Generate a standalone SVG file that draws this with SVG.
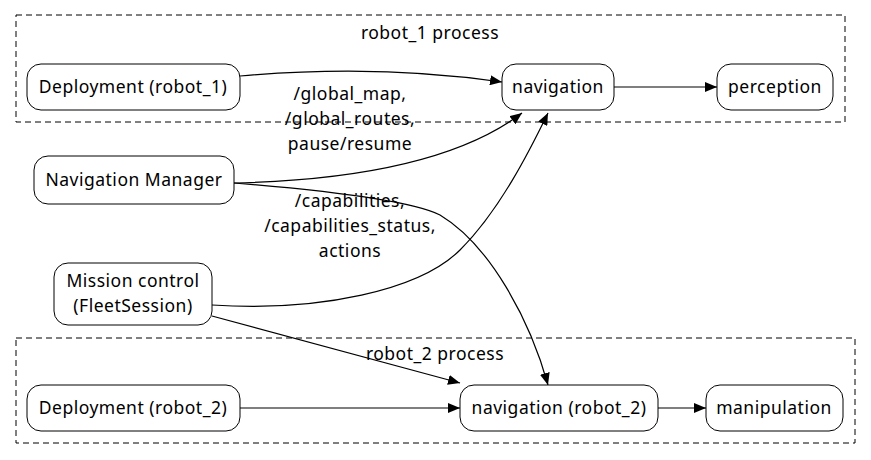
<svg xmlns="http://www.w3.org/2000/svg" width="871" height="460" viewBox="0 0 871 460">
<style>
text{font-family:"Noto Sans","DejaVu Sans",sans-serif;font-size:17.5px;letter-spacing:0.5px;fill:#000;text-anchor:middle}
.n{fill:#fff;stroke:#000;stroke-width:1}
.c{fill:none;stroke:#000;stroke-width:1;stroke-dasharray:6,4}
.e{fill:none;stroke:#000;stroke-width:1.2;marker-end:url(#a)}
</style>
<defs><marker id="a" viewBox="0 0 12 10" refX="12" refY="5" markerWidth="12" markerHeight="10" markerUnits="userSpaceOnUse" orient="auto"><path d="M0,0L12,5L0,10z" fill="#000"/></marker></defs>
<rect width="871" height="460" fill="#fff"/>
<g id="cluster1"><rect class="c" x="16" y="15" width="829" height="107"/><text x="430" y="39">robot_1 process</text></g>
<g id="cluster2"><rect class="c" x="16" y="338" width="839" height="105"/><text x="435" y="360">robot_2 process</text></g>
<g id="edges">
<path class="e" d="M240,76 C330,68 420,70 502,82"/>
<path class="e" d="M614,87 L717,87"/>
<path class="e" d="M234,183 C360,180 460,160 522,113"/>
<path class="e" d="M234,183 C320,190 410,200 440,215 C490,245 530,320 548,385"/>
<path class="e" d="M212,305 C320,312 420,290 460,250 C500,210 530,150 548,113"/>
<path class="e" d="M212,316 L460,383"/>
<path class="e" d="M240,408 L460,408"/>
<path class="e" d="M658,408 L706,408"/>
<text x="350" y="100">/global_map,</text><text x="350" y="125">/global_routes,</text><text x="350" y="150">pause/resume</text>
<text x="350" y="207">/capabilities,</text><text x="350" y="232">/capabilities_status,</text><text x="350" y="257">actions</text>
</g>
<g id="dep1"><rect class="n" x="27" y="64" width="213" height="46" rx="14"/><text x="133" y="93">Deployment (robot_1)</text></g>
<g id="nav1"><rect class="n" x="502" y="64" width="112" height="46" rx="14"/><text x="558" y="93">navigation</text></g>
<g id="perc"><rect class="n" x="717" y="64" width="116" height="46" rx="14"/><text x="775" y="93">perception</text></g>
<g id="navmgr"><rect class="n" x="34" y="156" width="200" height="48" rx="14"/><text x="134" y="186">Navigation Manager</text></g>
<g id="mission"><rect class="n" x="54" y="263" width="158" height="62" rx="14"/><text x="133" y="287">Mission control</text><text x="133" y="312">(FleetSession)</text></g>
<g id="dep2"><rect class="n" x="27" y="385" width="213" height="46" rx="14"/><text x="133" y="414">Deployment (robot_2)</text></g>
<g id="nav2"><rect class="n" x="460" y="385" width="198" height="46" rx="14"/><text x="559" y="414">navigation (robot_2)</text></g>
<g id="manip"><rect class="n" x="706" y="385" width="137" height="46" rx="14"/><text x="774" y="414">manipulation</text></g>
</svg>
